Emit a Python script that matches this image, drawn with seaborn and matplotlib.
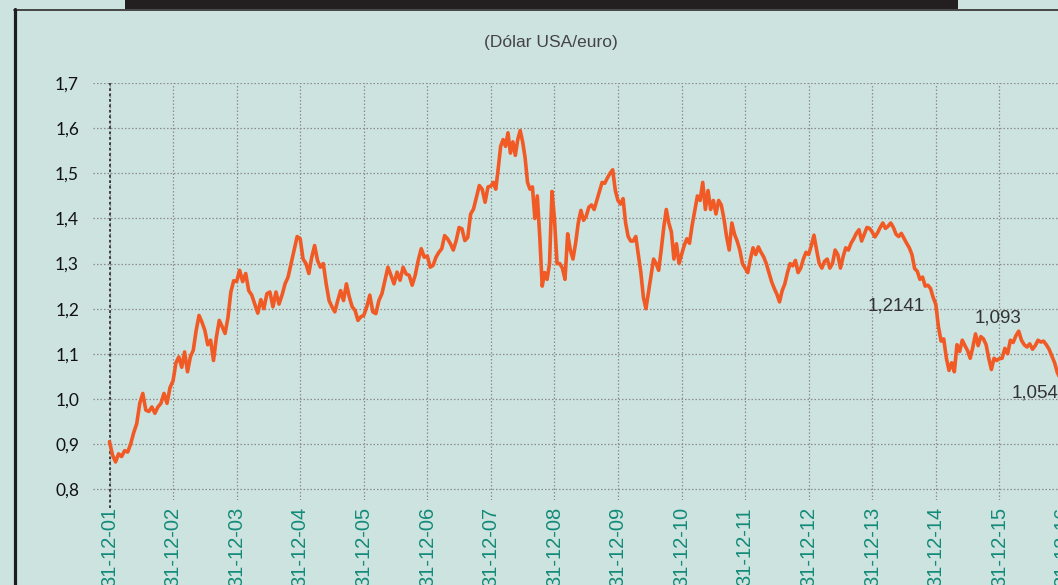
import numpy as np
import pandas as pd
import matplotlib
matplotlib.use("Agg")
import matplotlib.pyplot as plt
from matplotlib.lines import Line2D
from matplotlib.patches import Rectangle
import seaborn as sns

# ---------------- data (USD per EUR) ----------------
years = list(range(2002, 2017))
v2002 = [0.905, 0.875, 0.860, 0.878, 0.872, 0.885, 0.882, 0.900, 0.925, 0.945, 0.990,
         1.012, 0.975, 0.972, 0.982, 0.968, 0.982, 0.990, 1.012, 0.990, 1.025]
v2003 = [1.040, 1.080, 1.093, 1.070, 1.104, 1.060, 1.093, 1.108, 1.152, 1.185, 1.170,
         1.152, 1.120, 1.130, 1.085, 1.137, 1.174, 1.160, 1.145, 1.180, 1.237, 1.262]
v2004 = [1.260, 1.285, 1.260, 1.278, 1.240, 1.230, 1.210, 1.190, 1.220, 1.200, 1.233,
         1.237, 1.204, 1.237, 1.210, 1.230, 1.255, 1.270, 1.300, 1.330, 1.360]
v2005 = [1.355, 1.310, 1.300, 1.278, 1.314, 1.340, 1.307, 1.292, 1.300, 1.255, 1.218,
         1.204, 1.193, 1.218, 1.240, 1.218, 1.255, 1.226, 1.204, 1.196, 1.174, 1.182]
v2006 = [1.185, 1.204, 1.230, 1.193, 1.189, 1.218, 1.233, 1.263, 1.292, 1.274, 1.255,
         1.281, 1.263, 1.292, 1.277, 1.274, 1.252, 1.274, 1.307, 1.333, 1.314]
v2007 = [1.317, 1.292, 1.296, 1.314, 1.325, 1.333, 1.362, 1.355, 1.344, 1.330, 1.351,
         1.380, 1.377, 1.351, 1.358, 1.410, 1.421, 1.447, 1.473, 1.465, 1.436, 1.470]
v2008 = [1.472, 1.480, 1.465, 1.510, 1.560, 1.575, 1.560, 1.590, 1.545, 1.570, 1.540,
         1.575, 1.595, 1.570, 1.535, 1.480, 1.465, 1.470, 1.400, 1.450, 1.360, 1.250,
         1.280, 1.265, 1.300, 1.460]
v2009 = [1.400, 1.300, 1.300, 1.290, 1.265, 1.366, 1.330, 1.310, 1.345, 1.390, 1.418,
         1.396, 1.405, 1.425, 1.430, 1.420, 1.440, 1.460, 1.480, 1.478, 1.490, 1.500,
         1.508, 1.462]
v2010 = [1.440, 1.432, 1.444, 1.390, 1.360, 1.350, 1.350, 1.360, 1.320, 1.280, 1.225,
         1.200, 1.237, 1.275, 1.310, 1.300, 1.285, 1.330, 1.380, 1.420, 1.390, 1.370,
         1.310, 1.344, 1.300]
v2011 = [1.320, 1.340, 1.355, 1.345, 1.385, 1.418, 1.450, 1.440, 1.480, 1.420, 1.462,
         1.420, 1.440, 1.410, 1.440, 1.430, 1.400, 1.360, 1.330, 1.390, 1.365, 1.350,
         1.330, 1.300]
v2012 = [1.290, 1.280, 1.310, 1.335, 1.320, 1.337, 1.325, 1.315, 1.300, 1.280, 1.260,
         1.245, 1.232, 1.215, 1.240, 1.255, 1.280, 1.300, 1.295, 1.307, 1.280, 1.290,
         1.310, 1.325]
v2013 = [1.320, 1.340, 1.363, 1.330, 1.300, 1.290, 1.305, 1.310, 1.290, 1.300, 1.330,
         1.320, 1.290, 1.315, 1.335, 1.330, 1.345, 1.355, 1.367, 1.375, 1.350, 1.365,
         1.380, 1.378]
v2014 = [1.370, 1.359, 1.368, 1.380, 1.390, 1.378, 1.383, 1.390, 1.380, 1.365, 1.360,
         1.367, 1.356, 1.345, 1.335, 1.320, 1.289, 1.283, 1.265, 1.270, 1.250, 1.252,
         1.245, 1.225]
v2015 = [1.210, 1.160, 1.128, 1.133, 1.090, 1.063, 1.080, 1.060, 1.120, 1.105, 1.130,
         1.118, 1.107, 1.090, 1.115, 1.144, 1.118, 1.138, 1.133, 1.120, 1.090, 1.065,
         1.090, 1.085]
v2016 = [1.089, 1.090, 1.112, 1.100, 1.130, 1.125, 1.140, 1.150, 1.130, 1.120, 1.115,
         1.122, 1.110, 1.118, 1.130, 1.126, 1.128, 1.120, 1.110, 1.095, 1.080, 1.058,
         1.045]
yearly_values = [v2002, v2003, v2004, v2005, v2006, v2007, v2008, v2009, v2010,
                 v2011, v2012, v2013, v2014, v2015, v2016]

tick_years = list(range(2002, 2018))
tick_labels = ["31-12-01", "31-12-02", "31-12-03", "31-12-04", "31-12-05", "31-12-06",
               "31-12-07", "31-12-08", "31-12-09", "31-12-10", "31-12-11", "31-12-12",
               "31-12-13", "31-12-14", "31-12-15", "31-12-16"]
y_ticks = [0.8, 0.9, 1.0, 1.1, 1.2, 1.3, 1.4, 1.5, 1.6, 1.7]
y_labels = ["0,8", "0,9", "1,0", "1,1", "1,2", "1,3", "1,4", "1,5", "1,6", "1,7"]

ann_x = [2015.0, 2016.0, 2017.0]
ann_values = [1.2141, 1.093, 1.054]
ann_labels = ["1,2141", "1,093", "1,054"]

subtitle = "(Dólar USA/euro)"

# ---------------- build frame ----------------
xs, ys = [], []
for yr, vals in zip(years, yearly_values):
    n = len(vals)
    xs.extend(yr + np.arange(n) / n)
    ys.extend(vals)
df = pd.DataFrame({"t": xs, "rate": ys})

# ---------------- style ----------------
BG = "#cde3e0"
sns.set_style("white")
plt.rcParams["font.family"] = ["Liberation Sans", "DejaVu Sans"]

fig = plt.figure(figsize=(10.58, 5.85), dpi=100, facecolor=BG)
W, H = 1058, 585
ax = fig.add_axes([93 / W, (H - 500) / H, (1100 - 93) / W, (500 - 83) / H])
ax.set_facecolor(BG)

sns.lineplot(data=df, x="t", y="rate", ax=ax, color="#f15a24", linewidth=2.6,
             estimator=None, legend=False, zorder=3)

px_per_year = 63.56
ax.set_xlim(2002 - 16.5 / px_per_year, 2002 + (1100 - 109.5) / px_per_year)
ax.set_ylim(0.8 - 11 / 451, 1.7005)

ax.set_xticks(tick_years)
ax.set_xticklabels(tick_labels, rotation=90, color="#138a78", fontsize=14.5,
                   va="top", ha="center")
ax.set_yticks(y_ticks)
ax.set_yticklabels(y_labels, fontsize=12.5, color="#111111",
                   family=["Lato", "DejaVu Sans"])
ax.tick_params(axis="x", length=0, pad=5)
ax.tick_params(axis="y", length=0, pad=10)
ax.set_xlabel("")
ax.set_ylabel("")
for s in ax.spines.values():
    s.set_visible(False)

ax.grid(True, color="#8c8c8c", linestyle=(0, (1.2, 1.6)), linewidth=0.9, zorder=1)
ax.set_axisbelow(True)
# darker first vertical line (acts as y axis)
ax.axvline(tick_years[0], ymin=-8 / 417, ymax=1, color="#333333",
           linestyle=(0, (1.5, 1.5)), linewidth=1.3, clip_on=False, zorder=2)

# annotations
ax.annotate(ann_labels[0], xy=(ann_x[0], ann_values[0]), xytext=(-8, -3),
            textcoords="offset points", ha="right", va="center",
            fontsize=13.5, color="#333333")
ax.annotate(ann_labels[1], xy=(ann_x[1], ann_values[1]), xytext=(-1, 28),
            textcoords="offset points", ha="center", va="center",
            fontsize=13.5, color="#333333")
ax.annotate(ann_labels[2], xy=(ann_x[2], ann_values[2]), xytext=(-3, -13.5),
            textcoords="offset points", ha="right", va="center",
            fontsize=13.5, color="#333333")

# subtitle
fig.text(551 / W, 1 - 42 / H, subtitle, ha="center", va="center", fontsize=12.5,
         color="#444444", family=["Liberation Sans Narrow", "Liberation Sans", "DejaVu Sans"])

# frame decorations
fig.add_artist(Rectangle((125 / W, 1 - 9 / H), (958 - 125) / W, 9 / H,
                         transform=fig.transFigure, facecolor="#231f20",
                         edgecolor="none", zorder=5))
fig.add_artist(Line2D([14 / W, 1.0], [1 - 9.5 / H, 1 - 9.5 / H],
                      transform=fig.transFigure, color="#3a3a3a", linewidth=1.3, zorder=5))
fig.add_artist(Line2D([15 / W, 15 / W], [0, 1 - 9 / H],
                      transform=fig.transFigure, color="#1e1e1e", linewidth=2.3, zorder=5))

fig.savefig("out.png", dpi=100, facecolor=BG)
